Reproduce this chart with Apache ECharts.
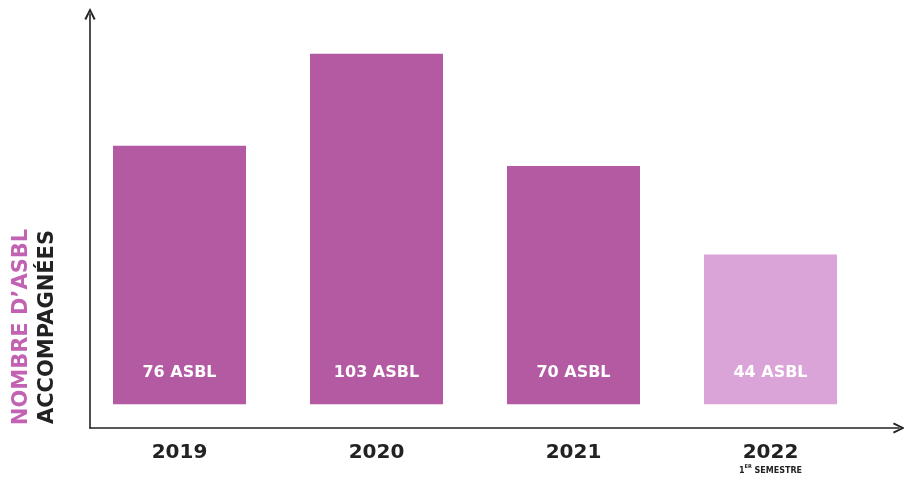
<!DOCTYPE html>
<html>
<head>
<meta charset="utf-8">
<script src="https://cdn.jsdelivr.net/npm/echarts@6/dist/echarts.min.js"></script>
<style>html,body{margin:0;padding:0;background:#fff;}#c{width:904px;height:477px;}</style>
</head>
<body>
<div id="c"></div>
<script>
var categories = ['2019', '2020', '2021', '2022'];
var subLabels = ['', '', '', '1ER SEMESTRE'];
var values = [76, 103, 70, 44];
var unit = 'ASBL';
var barColors = ['#b35aa3', '#b35aa3', '#b35aa3', '#dba4d8'];

var chart = echarts.init(document.getElementById('c'));
var font = '"DejaVu Sans", sans-serif';
var chevron = 'path://M0,10 L5,0 L10,10 L8.4,10.8 L5,3.6 L1.6,10.8 Z';
chart.setOption({
  animation: false,
  backgroundColor: '#ffffff',
  grid: [
    {left: 81, right: 35, top: 13, bottom: 49},
    {left: 90, right: 5, top: 14, bottom: 49}
  ],
  xAxis: [
    {
      type: 'category', gridIndex: 0, data: categories,
      axisLine: {show: false}, axisTick: {show: false},
      axisLabel: {
        interval: 0,
        margin: 14,
        formatter: function (v, i) {
          var s = subLabels[i];
          if (!s) return '{y|' + v + '}';
          return '{y|' + v + '}\n{s|1}{sup|ER}{s| SEMESTRE}';
        },
        rich: {
          y: {fontFamily: font, fontWeight: 'bold', fontSize: 20, color: '#222222', lineHeight: 22},
          s: {fontFamily: font, fontWeight: 'bold', fontSize: 8, color: '#222222', lineHeight: 13},
          sup: {fontFamily: font, fontWeight: 'bold', fontSize: 5, color: '#222222', verticalAlign: 'top', lineHeight: 13}
        }
      }
    },
    {
      type: 'value', gridIndex: 1, min: 0, max: 1,
      axisLine: {show: true, symbol: ['none', chevron], symbolSize: [16, 12], lineStyle: {color: '#222222', width: 1.6}},
      axisTick: {show: false}, axisLabel: {show: false}, splitLine: {show: false}
    }
  ],
  yAxis: [
    {
      type: 'value', gridIndex: 0, min: -7, max: 115,
      axisLine: {show: false}, axisTick: {show: false}, axisLabel: {show: false}, splitLine: {show: false}
    },
    {
      type: 'value', gridIndex: 1, min: 0, max: 1,
      axisLine: {show: true, symbol: ['none', chevron], symbolSize: [16, 12], lineStyle: {color: '#222222', width: 1.6}},
      axisTick: {show: false}, axisLabel: {show: false}, splitLine: {show: false}
    }
  ],
  series: [{
    type: 'bar', xAxisIndex: 0, yAxisIndex: 0,
    barWidth: 133,
    data: values.map(function (v, i) {
      return {value: v, itemStyle: {color: barColors[i]}};
    }),
    label: {
      show: true, position: 'insideBottom', distance: 23,
      formatter: function (p) { return p.value + ' ' + unit; },
      color: '#ffffff', fontFamily: font, fontWeight: 'bold', fontSize: 16
    }
  }],
  graphic: [{
    type: 'text',
    x: 35, y: 327,
    rotation: Math.PI / 2,
    style: {
      text: '{p|NOMBRE D\u2019ASBL}\n{b|ACCOMPAGNÉES}',
      align: 'center', verticalAlign: 'middle',
      rich: {
        p: {fontFamily: font, fontWeight: 'bold', fontSize: 21, fill: '#c262b3', lineHeight: 26, align: 'center'},
        b: {fontFamily: font, fontWeight: 'bold', fontSize: 21, fill: '#222222', lineHeight: 26, align: 'center'}
      }
    }
  }]
});
</script>
</body>
</html>
